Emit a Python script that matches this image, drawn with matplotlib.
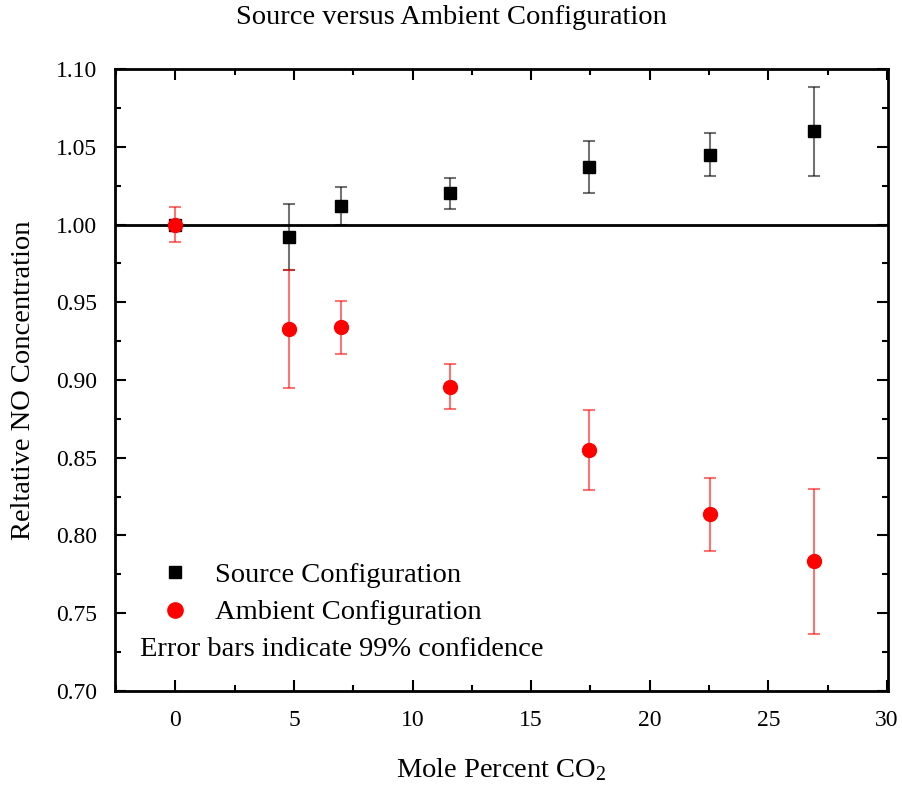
import matplotlib
matplotlib.use("Agg")
import matplotlib.pyplot as plt
from matplotlib.lines import Line2D
from matplotlib.ticker import MultipleLocator

plt.rcParams['font.family'] = ['Liberation Serif', 'DejaVu Serif']
plt.rcParams['mathtext.fontset'] = 'custom'
plt.rcParams['mathtext.rm'] = 'Liberation Serif'
plt.rcParams['mathtext.it'] = 'Liberation Serif:italic'
plt.rcParams['mathtext.bf'] = 'Liberation Serif:bold'

# Data
source_x = [0.0, 4.77, 6.99, 11.58, 17.42, 22.53, 26.93]
source_y = [1.000, 0.992, 1.012, 1.020, 1.037, 1.045, 1.060]
source_err = [0.0, 0.021, 0.012, 0.0098, 0.017, 0.014, 0.0287]

ambient_x = [0.0, 4.77, 6.99, 11.58, 17.42, 22.53, 26.93]
ambient_y = [1.000, 0.9326, 0.934, 0.8957, 0.855, 0.8137, 0.7835]
ambient_err = [0.011, 0.038, 0.017, 0.0143, 0.026, 0.0235, 0.0466]

x_ticks = [0, 5, 10, 15, 20, 25, 30]
y_ticks = [0.70, 0.75, 0.80, 0.85, 0.90, 0.95, 1.00, 1.05, 1.10]

fig = plt.figure(figsize=(9.02, 7.87), dpi=100)
ax = fig.add_axes([0.1275, 0.122, 0.857, 0.7903])

ax.axhline(1.0, color='black', lw=2, zorder=1)

ax.errorbar(source_x, source_y, yerr=source_err, fmt='s', color='black',
            ms=8.5, ecolor=(0, 0, 0, 0.55), elinewidth=1.5, capsize=4.5,
            capthick=1.5, zorder=3)
ax.errorbar(ambient_x, ambient_y, yerr=ambient_err, fmt='o', color='red',
            ms=10, ecolor=(1, 0, 0, 0.55), elinewidth=1.5, capsize=4.5,
            capthick=1.5, zorder=4)

ax.set_xlim(-2.55, 30.05)
ax.set_ylim(0.70, 1.10)
ax.set_xticks(x_ticks)
ax.set_yticks(y_ticks)
ax.set_yticklabels([f"{v:.2f}" for v in y_ticks])
ax.xaxis.set_minor_locator(MultipleLocator(2.5))
ax.yaxis.set_minor_locator(MultipleLocator(0.025))
ax.tick_params(which='both', direction='in', top=True, right=True, labelsize=17, width=1.5)
ax.tick_params(which='major', length=8)
ax.tick_params(axis='x', which='major', pad=14)
ax.tick_params(axis='y', which='major', pad=13)
ax.tick_params(which='minor', length=4)
for s in ax.spines.values():
    s.set_linewidth(2)

ax.set_xlabel('Mole Percent CO$_\\mathregular{2}$', fontsize=20.5, labelpad=18)
ax.set_ylabel('Reltative NO Concentration', fontsize=20.5, labelpad=14)
fig.text(0.5, 1 - 18 / 787, 'Source versus Ambient Configuration', fontsize=20.5,
         ha='center', va='center')

handles = [Line2D([], [], ls='none', marker='s', color='black', ms=9),
           Line2D([], [], ls='none', marker='o', color='red', ms=11)]
ax.legend(handles, ['Source Configuration', 'Ambient Configuration'],
          loc='upper left', bbox_to_anchor=(0.0592, 0.207), frameon=False,
          fontsize=20.5, handlelength=1.0, handletextpad=0.9, labelspacing=0.4,
          borderpad=0, borderaxespad=0)
ax.text(0.032, 0.066, 'Error bars indicate 99% confidence', transform=ax.transAxes,
        fontsize=20.5, va='center', ha='left')

fig.savefig('out.png', dpi=100)
